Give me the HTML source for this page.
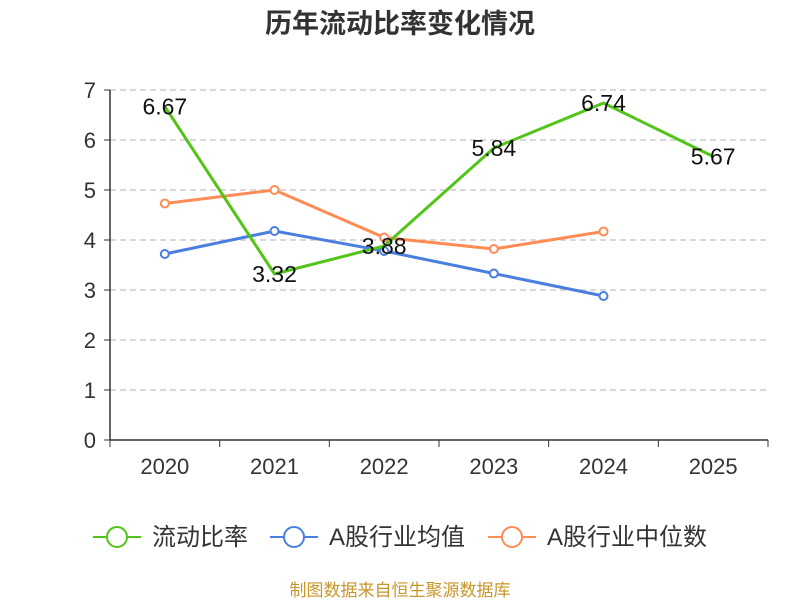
<!DOCTYPE html>
<html><head><meta charset="utf-8"><style>
body{margin:0;background:#fff;}
svg text{font-family:"Liberation Sans","Noto Sans CJK SC",sans-serif;}
</style></head><body>
<svg id="chart" width="800" height="600" xmlns="http://www.w3.org/2000/svg">
<text x="400" y="33" text-anchor="middle" font-size="27" font-weight="bold" fill="#333">历年流动比率变化情况</text>
<g id="grid"></g><g id="axes"></g><g id="series"></g>
<g>
<g><line x1="93" y1="537" x2="141" y2="537" stroke="#52c41a" stroke-width="2"/><circle cx="117" cy="537" r="10" fill="#fff" stroke="#52c41a" stroke-width="2"/><text x="152" y="545" font-size="24" fill="#333">流动比率</text></g>
<g><line x1="270" y1="537" x2="318" y2="537" stroke="#4a7fe0" stroke-width="2"/><circle cx="294" cy="537" r="10" fill="#fff" stroke="#4a7fe0" stroke-width="2"/><text x="329" y="545" font-size="24" fill="#333">A股行业均值</text></g>
<g><line x1="488" y1="537" x2="536" y2="537" stroke="#ff8c55" stroke-width="2"/><circle cx="512" cy="537" r="10" fill="#fff" stroke="#ff8c55" stroke-width="2"/><text x="547" y="545" font-size="24" fill="#333">A股行业中位数</text></g>
</g>
<text x="400" y="596" text-anchor="middle" font-size="17" fill="#c8962a">制图数据来自恒生聚源数据库</text>
</svg>
<script>
const categories=["2020","2021","2022","2023","2024","2025"];
const ratio=[6.67,3.32,3.88,5.84,6.74,5.67];
const industryMean=[3.72,4.18,3.78,3.33,2.88];
const industryMedian=[4.73,5.0,4.05,3.82,4.17];
const yTicks=[0,1,2,3,4,5,6,7];
const NS="http://www.w3.org/2000/svg";
const x0=110,x1=768,y0=440,yTop=90,yMax=7;
const bw=(x1-x0)/categories.length;
const xs=i=>x0+bw*(i+0.5);
const ys=v=>y0-(y0-yTop)*v/yMax;
function mk(t,a,p){const e=document.createElementNS(NS,t);for(const k in a)e.setAttribute(k,a[k]);p.appendChild(e);return e;}
const grid=document.getElementById('grid'),axes=document.getElementById('axes'),ser=document.getElementById('series');
yTicks.forEach(v=>{
 if(v>0){const g=mk('line',{x1:x0,x2:x1,y1:ys(v),y2:ys(v),stroke:'#ccc','stroke-dasharray':'6,4','stroke-width':1.5},grid);
 
 }
 const t=mk('text',{x:x0-14,y:ys(v)+8,'text-anchor':'end','font-size':22,fill:'#333'},axes);t.textContent=v;
 
 
 mk('line',{x1:x0-6,x2:x0,y1:ys(v),y2:ys(v),stroke:'#333'},axes);
});
const ya=mk('line',{x1:x0,x2:x0,y1:yTop,y2:y0,stroke:'#333','stroke-width':1.5},axes);


const xa=mk('line',{x1:x0,x2:x1,y1:y0,y2:y0,stroke:'#333','stroke-width':1.5},axes);


for(let i=0;i<=categories.length;i++)mk('line',{x1:x0+bw*i,x2:x0+bw*i,y1:y0,y2:y0+7,stroke:'#333'},axes);
categories.forEach((c,i)=>{const t=mk('text',{x:xs(i),y:y0+34,'text-anchor':'middle','font-size':22,fill:'#333'},axes);t.textContent=c;
 
 });
function line(data,color,name,markers){
 const pts=data.map((v,i)=>xs(i)+','+ys(v)).join(' ');
 const p=mk('polyline',{points:pts,fill:'none',stroke:color,'stroke-width':3},ser);
 
 
 if(markers)data.forEach((v,i)=>{const c=mk('circle',{cx:xs(i),cy:ys(v),r:4,fill:'#fff',stroke:color,'stroke-width':2},ser);
 
 });
}
line(industryMean,'#4a7fe0','industry-mean',true);
line(industryMedian,'#ff8c55','industry-median',true);
line(ratio,'#52c41a','current-ratio',false);
ratio.forEach((v,i)=>{const t=mk('text',{x:xs(i),y:ys(v)+8,'text-anchor':'middle','font-size':23,fill:'#111'},ser);t.textContent=v.toFixed(2);
 
 });
</script>
</body></html>
